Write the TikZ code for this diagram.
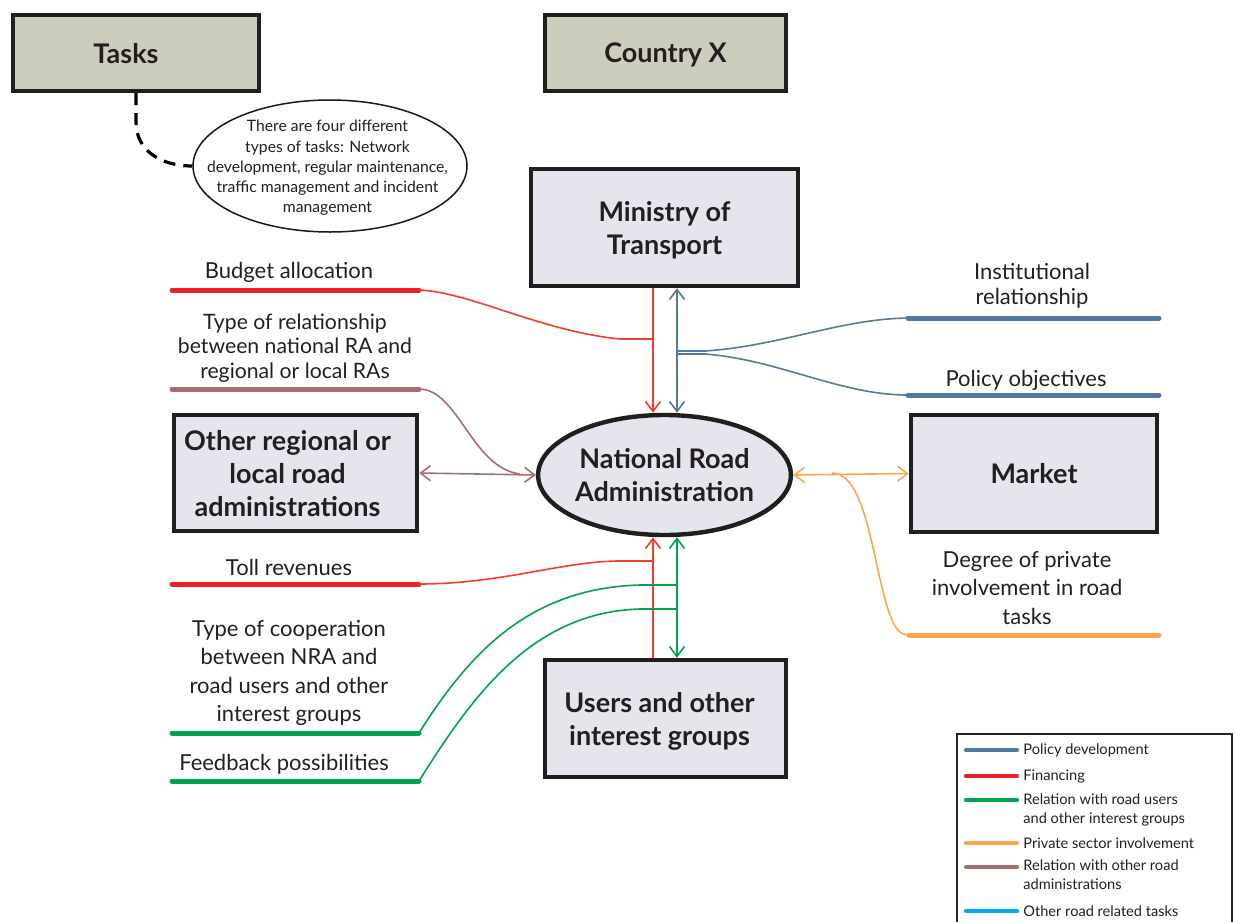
\documentclass[tikz,border=0pt]{standalone}
\usepackage{fontspec}
\setmainfont{Lato}
\usetikzlibrary{arrows.meta,shapes.geometric}
\definecolor{txt}{RGB}{35,31,32}
\definecolor{boxfill}{RGB}{230,228,236}
\definecolor{headfill}{RGB}{205,205,189}
\definecolor{cpolicy}{RGB}{84,121,160}
\definecolor{cfin}{RGB}{238,32,36}
\definecolor{cfinthin}{RGB}{244,62,44}
\definecolor{cusers}{RGB}{0,164,80}
\definecolor{cprivate}{RGB}{251,166,76}
\definecolor{cadmin}{RGB}{165,110,112}
\definecolor{cother}{RGB}{0,172,236}
\begin{document}
\begin{tikzpicture}[x=0.5pt,y=-0.5pt,
  box/.style={draw=black!88, line width=2.2pt, fill=boxfill, inner sep=0pt, text depth=0pt,
    font=\fontsize{13.5}{16.5}\selectfont\bfseries, text=txt, align=center},
  headbox/.style={box, fill=headfill},
  lbl/.style={font=\fontsize{11}{12.5}\selectfont, text=txt, align=center, inner sep=0pt},
  leg/.style={font=\fontsize{7.3}{9.5}\selectfont, text=txt, align=left, inner sep=0pt, anchor=west},
  bar/.style={line width=2.5pt, line cap=round},
  legbar/.style={line width=2.2pt, line cap=round},
  link/.style={line width=0.8pt},
  >={Straight Barb[length=5pt,width=7.5pt]}]
\useasboundingbox (0,0) rectangle (1235,921);

% header boxes
\node[headbox, minimum width=123pt, minimum height=38pt] (tasks) at (136,53) {\hspace*{-10pt}Tasks};
\node[headbox, minimum width=120.5pt, minimum height=38pt] (country) at (665.5,53) {Country X};

% explanatory ellipse for the tasks
\node[ellipse, draw=black!90, line width=0.75pt, fill=white, minimum width=137pt, minimum height=66pt, inner sep=0pt] (tasknote) at (330,166) {};
\node[font=\fontsize{7.85}{10.1}\selectfont, text=txt, align=center, inner sep=0pt] (tasktext) at (327.5,168)
  {There are four different\\types of tasks: Network\\development, regular maintenance,\\traffic management and incident\\management};
\draw[line width=1.6pt, dash pattern=on 6pt off 4pt] (tasks.south -| 136,0) -- (136,122) .. controls (136,150) and (160,166) .. (tasknote.west);

% main actors
\node[box, minimum width=133.5pt, minimum height=58.5pt] (ministry) at (664.5,227.5) {Ministry of\\Transport};
\node[box, minimum width=121.5pt, minimum height=58pt] (otherra) at (295.5,473) {\hspace*{-8pt}Other regional or\\\hspace*{-8pt}local road\\\hspace*{-8pt}administrations};
\node[box, minimum width=123pt, minimum height=58.5pt] (market) at (1034,473.5) {Market};
\node[box, minimum width=120.5pt, minimum height=58.5pt] (users) at (665.5,718.5) {\hspace*{-6pt}Users and other\\\hspace*{-6pt}interest groups};
\node[ellipse, draw=black!88, line width=2.2pt, fill=boxfill, inner sep=0pt, minimum width=121.5pt, minimum height=60pt,
  font=\fontsize{13.5}{16.5}\selectfont\bfseries, text=txt, align=center] (nra) at (664.5,475) {National Road\\Administration};

% columns of the vertical links
\coordinate (xr) at (653,0);
\coordinate (xb) at (677,0);

% budget allocation (financing)
\node[lbl] (budgettxt) at (289,272) {Budget allocation};
\coordinate (budgetL) at (172,290);
\coordinate (budgetR) at (419,290);
\coordinate (budgetJ) at (653,339);
\draw[cfin, bar] (budgetL) -- (budgetR);
\draw[cfinthin, link] (budgetR) .. controls (470,292) and (540,331) .. (620,339) -- (budgetJ);
\draw[cfinthin, link, ->] (ministry.south -| xr) -- (nra.north -| xr);

% policy development
\draw[cpolicy, link, <->] (ministry.south -| xb) -- (nra.north -| xb);
\node[lbl] (insttxt) at (1032,286) {Institutional\\relationship};
\node[lbl] (policytxt) at (1026,380) {Policy objectives};
\coordinate (instL) at (908,318);
\coordinate (instR) at (1159,318);
\coordinate (polL) at (908,395);
\coordinate (polR) at (1159,395);
\coordinate (instJ) at (677,351);
\coordinate (polJ) at (677,354);
\draw[cpolicy, bar] (instL) -- (instR);
\draw[cpolicy, bar] (polL) -- (polR);
\draw[cpolicy, link] (instJ) -- (705,351) .. controls (780,346) and (840,319) .. (instL);
\draw[cpolicy, link] (polJ) -- (705,354) .. controls (780,360) and (840,395) .. (polL);

% relation with other road administrations
\node[lbl, font=\fontsize{10.6}{12.2}\selectfont] (reltxt) at (295,348) {Type of relationship\\between national RA and\\regional or local RAs};
\coordinate (relL) at (172,389);
\coordinate (relR) at (419,389);
\coordinate (relJ) at (520,474);
\draw[cadmin, bar] (relL) -- (relR);
\draw[cadmin, link] (relR) .. controls (458,389) and (472,468) .. (relJ);
\draw[cadmin, link, <->] (otherra.east) -- (nra.west);

% private sector involvement
\draw[cprivate, link, <->] (nra.east) -- (market.west);
\node[lbl, font=\fontsize{11}{14.2}\selectfont] (privtxt) at (1027,588) {Degree of private\\involvement in road\\tasks};
\coordinate (privJ) at (832,473);
\coordinate (privL) at (909,635);
\coordinate (privR) at (1159,635);
\draw[cprivate, bar] (privL) -- (privR);
\draw[cprivate, link] (privJ) .. controls (858,473) and (868,525) .. (878,570) .. controls (890,625) and (897,635) .. (privL);

% toll revenues (financing)
\node[lbl] (tolltxt) at (289,567) {Toll revenues};
\coordinate (tollL) at (172,584);
\coordinate (tollR) at (419,584);
\coordinate (tollJ) at (653,561);
\draw[cfin, bar] (tollL) -- (tollR);
\draw[cfinthin, link] (tollR) .. controls (500,584) and (560,562) .. (617,561) -- (tollJ);
\draw[cfinthin, link, ->] (users.north -| xr) -- (nra.south -| xr);

% relation with road users and other interest groups
\draw[cusers, link, <->] (users.north -| xb) -- (nra.south -| xb);
\node[lbl, font=\fontsize{11}{14.3}\selectfont] (coopttxt) at (289,673) {Type of cooperation\\between NRA and\\road users and other\\interest groups};
\node[lbl] (feedtxt) at (284,764) {Feedback possibilities};
\coordinate (coopL) at (172,733);
\coordinate (coopR) at (419,733);
\coordinate (feedL) at (172,781);
\coordinate (feedR) at (419,781);
\coordinate (coopJ) at (677,585);
\coordinate (feedJ) at (677,609);
\draw[cusers, bar] (coopL) -- (coopR);
\draw[cusers, bar] (feedL) -- (feedR);
\draw[cusers, link] (coopR) .. controls (470,652) and (530,588) .. (640,585) -- (coopJ);
\draw[cusers, link] (feedR) .. controls (470,700) and (530,612) .. (640,609) -- (feedJ);

% legend
\draw[black!85, line width=0.6pt] (957,930) -- (957,734) -- (1232,734) -- (1232,930);
\foreach \y/\c/\n in {750/cpolicy/lpol, 776/cfin/lfin, 800/cusers/luse, 843/cprivate/lpri, 867/cadmin/ladm, 911/cother/loth}{
  \coordinate (\n a) at (966,\y);
  \coordinate (\n b) at (1017,\y);
  \draw[\c, legbar] (\n a) -- (\n b);
}
\node[leg] (tpol) at (1023,750) {Policy development};
\node[leg] (tfin) at (1023,776) {Financing};
\node[leg, anchor=north west] (tuse) at (1023,793) {Relation with road users\\and other interest groups};
\node[leg] (tpri) at (1023,843) {Private sector involvement};
\node[leg, anchor=north west] (tadm) at (1023,859) {Relation with other road\\administrations};
\node[leg] (toth) at (1023,911) {Other road related tasks};
\end{tikzpicture}
\end{document}
